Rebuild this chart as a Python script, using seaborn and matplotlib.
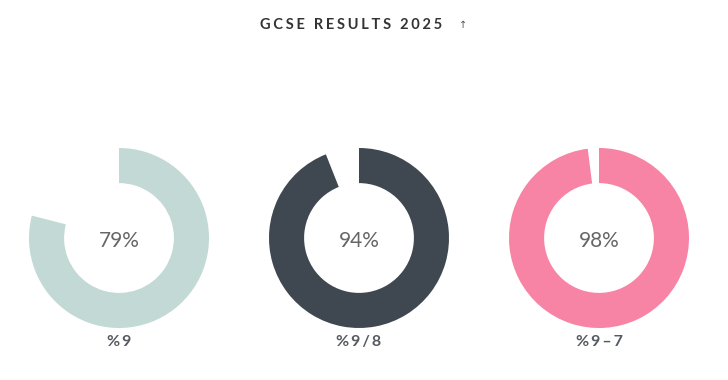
import matplotlib
matplotlib.use("Agg")
import matplotlib.pyplot as plt
import seaborn as sns

# chart data
labels = ["%9", "%9/8", "%9–7"]
values = [79, 94, 98]
colors = ["#c3d9d5", "#3f4750", "#f784a4"]
title = "GCSE RESULTS 2025"

sns.set_theme(style="white")
plt.rcParams['font.family'] = ['Lato', 'DejaVu Sans']

fig = plt.figure(figsize=(7.28, 3.8), dpi=100)
fig.patch.set_facecolor("white")

W, H = 728, 380
centers_x = [119, 359, 599]
cy = 238
r = 90

def spaced(s, sep="\u200a"):
    return sep.join(s)

for cx, val, col, lab in zip(centers_x, values, colors, labels):
    ax = fig.add_axes([(cx - r) / W, (H - cy - r) / H, 2 * r / W, 2 * r / H])
    ax.pie([val, 100 - val], colors=[col, "none"], startangle=90, counterclock=False,
           radius=1.0, wedgeprops=dict(width=0.39, linewidth=0))
    ax.set_xlim(-1, 1)
    ax.set_ylim(-1, 1)
    ax.set_aspect("equal")
    ax.axis("off")
    ax.text(0, -0.03, f"{val}%", ha="center", va="center", fontsize=15,
            fontweight="normal", color="#666666")
    fig.text(cx / W, 1 - 342 / H, spaced(lab, "\u2009"), ha="center", va="center",
             fontsize=11.5, fontweight="bold", color="#555a60")

fig.text(351 / W, 1 - 25 / H, spaced(title, "\u2009\u200a"), ha="center", va="center",
         fontsize=10.5, fontweight="bold", color="#333333")
fig.text(463 / W, 1 - 25 / H, "↑", ha="center", va="center", fontsize=7,
         color="#555555", family="DejaVu Sans")

fig.savefig("out.png", dpi=100, facecolor="white")
